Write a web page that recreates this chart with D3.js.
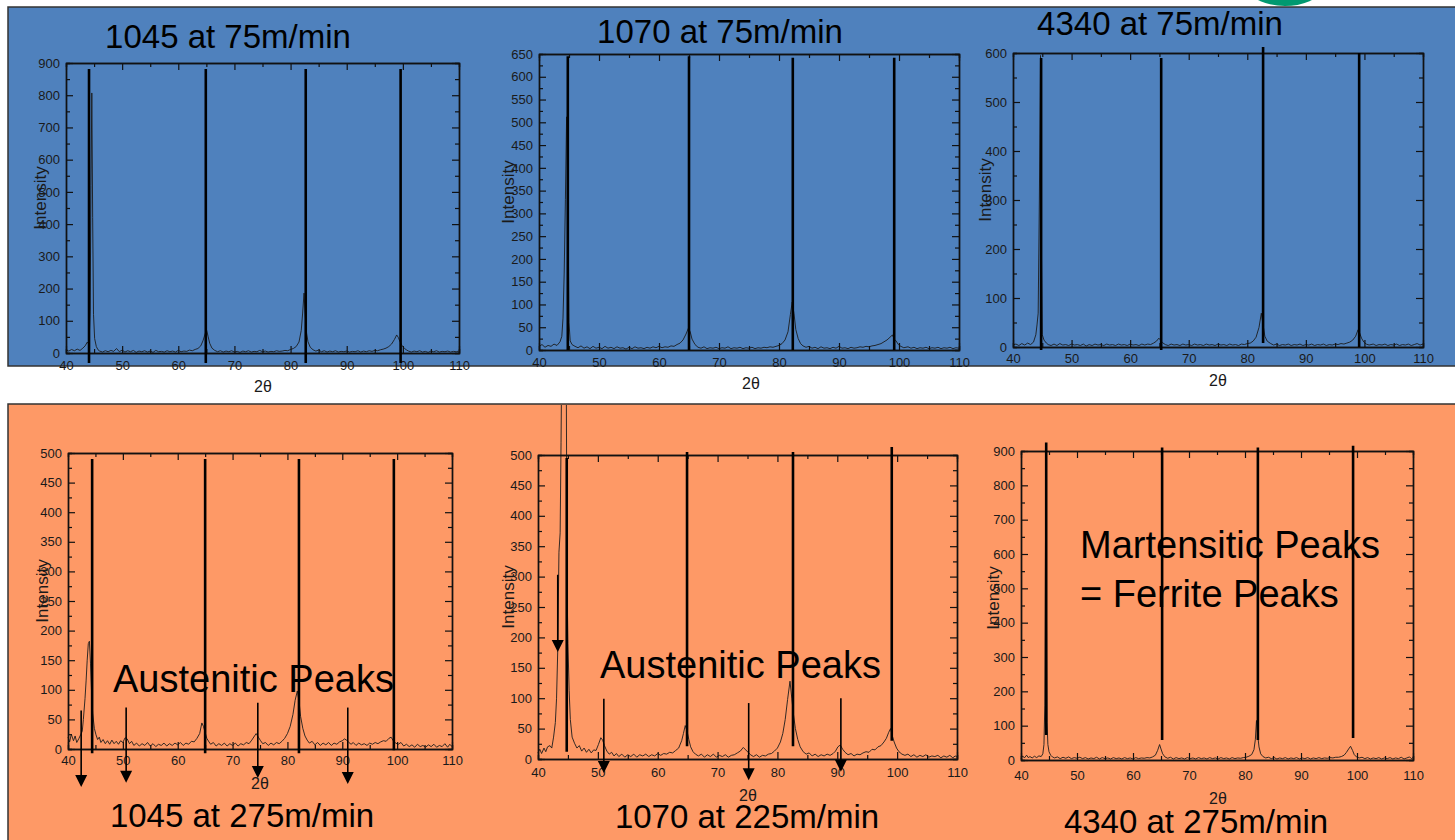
<!DOCTYPE html>
<html>
<head>
<meta charset="utf-8">
<script src="https://cdn.jsdelivr.net/npm/d3@7"></script>
<style>
  body { margin: 0; background: #fff; }
  svg { display: block; font-family: "Liberation Sans", Arial, sans-serif; }
  .axis path { stroke: #111; stroke-width: 1.4; }
  .axis line { stroke: #111; stroke-width: 1.2; }
  .axis text { font-size: 13px; fill: #1a1a1a; font-family: "Liberation Sans", Arial, sans-serif; }
</style>
</head>
<body>
<script>
// ---- tick labels ----
let xTicks = [40, 50, 60, 70, 80, 90, 100, 110];
let xMinor = [45, 55, 65, 75, 85, 95, 105];
let yTicks900 = [0, 100, 200, 300, 400, 500, 600, 700, 800, 900];
let yMinor900 = [50, 150, 250, 350, 450, 550, 650, 750, 850];
let yTicks650 = [0, 50, 100, 150, 200, 250, 300, 350, 400, 450, 500, 550, 600, 650];
let yMinor650 = [25, 75, 125, 175, 225, 275, 325, 375, 425, 475, 525, 575, 625];
let yTicks600 = [0, 100, 200, 300, 400, 500, 600];
let yMinor600 = [50, 150, 250, 350, 450, 550];
let yTicks500 = [0, 50, 100, 150, 200, 250, 300, 350, 400, 450, 500];
let yMinor500 = [25, 75, 125, 175, 225, 275, 325, 375, 425, 475];

// ---- XRD scans [2theta, intensity] ----
let scan1045at75 = [[40,10],[40.5,6],[41,11],[41.5,7],[42,12],[42.5,8],[43,15],[43.4,22],[43.8,34],[44.1,26],[44.3,130],[44.45,520],[44.6,807],[44.75,420],[44.9,120],[45.1,45],[45.4,20],[45.7,10],[46,6],[46.5,3],[47,7],[47.5,4],[48,8],[48.5,5],[49,14],[49.5,4],[50,9],[50.5,3],[51,7],[51.5,4],[52,8],[52.5,2],[53,6],[53.5,4],[54,7],[54.5,3],[55,6],[55.5,2],[56,8],[56.5,4],[57,5],[57.5,3],[58,7],[58.5,4],[59,6],[59.5,3],[60,8],[60.5,4],[61,6],[61.5,5],[62,9],[62.5,7],[63,11],[63.5,14],[64,22],[64.4,38],[64.8,60],[65.05,71],[65.3,52],[65.6,30],[66,15],[66.5,8],[67,4],[67.5,7],[68,3],[68.5,6],[69,4],[69.5,7],[70,3],[70.5,5],[71,2],[71.5,6],[72,4],[72.5,7],[73,3],[73.5,5],[74,4],[74.5,8],[75,4],[75.5,6],[76,3],[76.5,5],[77,4],[77.5,7],[78,5],[78.5,6],[79,8],[79.5,7],[80,11],[80.5,14],[81,20],[81.5,34],[81.9,70],[82.15,124],[82.4,186],[82.6,120],[82.85,62],[83.1,35],[83.5,18],[84,10],[84.5,6],[85,9],[85.5,4],[86,7],[86.5,3],[87,6],[87.5,4],[88,7],[88.5,3],[89,5],[89.5,4],[90,6],[90.5,3],[91,5],[91.5,4],[92,7],[92.5,3],[93,6],[93.5,4],[94,7],[94.5,5],[95,8],[95.5,7],[96,10],[96.5,12],[97,15],[97.5,20],[98,28],[98.5,42],[98.9,56],[99.2,48],[99.5,35],[99.9,22],[100.3,14],[100.7,9],[101,6],[101.5,3],[102,6],[102.5,4],[103,7],[103.5,3],[104,5],[104.5,2],[105,6],[105.5,4],[106,7],[106.5,3],[107,5],[107.5,4],[108,6],[108.5,3],[109,5],[109.5,4],[110,6]];

let scan1070at75 = [[40,8],[40.5,12],[41,6],[41.5,10],[42,8],[42.5,13],[43,10],[43.5,18],[43.8,30],[44.0,70],[44.2,169],[44.4,330],[44.6,512],[44.8,360],[45.0,60],[45.2,20],[45.5,12],[46,8],[46.5,5],[47,9],[47.5,4],[48,7],[48.5,3],[49,8],[49.5,4],[50,6],[50.5,3],[51,8],[51.5,4],[52,6],[52.5,3],[53,7],[53.5,4],[54,5],[54.5,2],[55,6],[55.5,3],[56,7],[56.5,4],[57,5],[57.5,3],[58,6],[58.5,4],[59,7],[59.5,5],[60,8],[60.5,5],[61,7],[61.5,6],[62,9],[62.5,8],[63,12],[63.5,15],[64,22],[64.5,35],[64.9,48],[65.2,40],[65.5,24],[66,12],[66.5,6],[67,4],[67.5,7],[68,3],[68.5,5],[69,4],[69.5,6],[70,3],[70.5,5],[71,4],[71.5,7],[72,3],[72.5,5],[73,4],[73.5,6],[74,3],[74.5,5],[75,4],[75.5,6],[76,3],[76.5,5],[77,4],[77.5,6],[78,5],[78.5,7],[79,6],[79.5,8],[80,10],[80.5,14],[81,22],[81.5,40],[81.9,78],[82.2,105],[82.5,80],[82.8,45],[83.2,25],[83.6,14],[84,9],[84.5,6],[85,8],[85.5,4],[86,6],[86.5,3],[87,7],[87.5,4],[88,5],[88.5,3],[89,6],[89.5,4],[90,8],[90.5,4],[91,5],[91.5,3],[92,6],[92.5,4],[93,5],[93.5,7],[94,6],[94.5,8],[95,7],[95.5,9],[96,10],[96.5,12],[97,14],[97.5,18],[98,22],[98.5,28],[98.9,33],[99.2,24],[99.5,20],[99.9,12],[100.3,8],[100.8,5],[101.5,7],[102,4],[102.5,6],[103,3],[103.5,5],[104,4],[104.5,6],[105,3],[105.5,5],[106,4],[106.5,6],[107,3],[107.5,5],[108,4],[108.5,6],[109,3],[109.5,5],[110,4]];

let scan4340at75 = [[40,4],[40.5,6],[41,3],[41.5,7],[42,4],[42.5,8],[43,5],[43.5,10],[43.9,25],[44.1,45],[44.3,69],[44.5,300],[44.7,595],[44.85,200],[45.0,25],[45.3,14],[45.7,8],[46,5],[46.5,3],[47,6],[47.5,3],[48,7],[48.5,4],[49,5],[49.5,3],[50,6],[50.5,4],[51,5],[51.5,3],[52,6],[52.5,2],[53,5],[53.5,3],[54,6],[54.5,4],[55,5],[55.5,3],[56,6],[56.5,4],[57,5],[57.5,3],[58,6],[58.5,4],[59,5],[59.5,3],[60,6],[60.5,4],[61,5],[61.5,3],[62,6],[62.5,4],[63,6],[63.5,5],[64,8],[64.5,12],[64.9,18],[65.2,14],[65.5,9],[66,5],[66.5,3],[67,6],[67.5,4],[68,5],[68.5,3],[69,6],[69.5,4],[70,5],[70.5,3],[71,6],[71.5,4],[72,5],[72.5,3],[73,6],[73.5,4],[74,5],[74.5,3],[75,6],[75.5,4],[76,5],[76.5,3],[77,6],[77.5,4],[78,5],[78.5,3],[79,6],[79.5,5],[80,7],[80.5,8],[81,12],[81.5,20],[82.0,40],[82.4,69],[82.7,45],[83.0,22],[83.4,12],[84,7],[84.5,4],[85,6],[85.5,3],[86,5],[86.5,4],[87,6],[87.5,3],[88,5],[88.5,4],[89,6],[89.5,3],[90,5],[90.5,4],[91,6],[91.5,3],[92,5],[92.5,4],[93,6],[93.5,3],[94,5],[94.5,4],[95,6],[95.5,5],[96,7],[96.5,6],[97,8],[97.5,10],[98,14],[98.5,22],[98.9,35],[99.2,28],[99.5,18],[99.9,10],[100.3,6],[100.8,4],[101.5,6],[102,3],[102.5,5],[103,4],[103.5,6],[104,3],[104.5,5],[105,4],[105.5,6],[106,3],[106.5,5],[107,4],[107.5,6],[108,3],[108.5,5],[109,7],[109.5,4],[110,6]];

let scan1045at275 = [[40,20],[40.3,12],[40.6,25],[41,14],[41.3,22],[41.6,11],[42,18],[42.3,24],[42.6,30],[42.8,50],[43.1,85],[43.3,115],[43.5,150],[43.7,178],[43.9,182],[44.1,145],[44.3,95],[44.5,60],[44.8,35],[45.1,24],[45.4,16],[45.7,20],[46,11],[46.4,16],[46.8,9],[47.2,14],[47.6,8],[48,15],[48.4,9],[48.8,13],[49.2,8],[49.6,14],[50,11],[50.4,19],[50.8,17],[51.2,9],[51.6,13],[52,6],[52.5,10],[53,5],[53.5,9],[54,6],[54.5,11],[55,5],[55.5,9],[56,4],[56.5,8],[57,6],[57.5,10],[58,5],[58.5,9],[59,6],[59.5,10],[60,7],[60.5,11],[61,6],[61.5,10],[62,8],[62.5,13],[63,12],[63.5,18],[64,26],[64.4,44],[64.7,38],[65,28],[65.3,18],[65.7,12],[66,8],[66.5,11],[67,5],[67.5,9],[68,6],[68.5,10],[69,5],[69.5,9],[70,6],[70.5,10],[71,5],[71.5,9],[72,7],[72.5,11],[73,9],[73.5,15],[74,22],[74.3,26],[74.7,20],[75.1,14],[75.5,9],[76,11],[76.5,6],[77,10],[77.5,7],[78,11],[78.5,9],[79,13],[79.5,18],[80,26],[80.5,38],[81,58],[81.4,82],[81.8,98],[82.1,82],[82.4,55],[82.8,35],[83.2,22],[83.6,15],[84,10],[84.5,13],[85,7],[85.5,11],[86,6],[86.5,10],[87,7],[87.5,11],[88,6],[88.5,10],[89,8],[89.5,12],[90,14],[90.4,17],[90.8,15],[91.2,11],[91.6,8],[92,11],[92.5,6],[93,10],[93.5,7],[94,9],[94.5,6],[95,10],[95.5,8],[96,11],[96.5,9],[97,12],[97.5,14],[98,13],[98.5,18],[98.9,20],[99.3,14],[99.7,10],[100.2,8],[100.7,11],[101.2,5],[101.7,8],[102.2,4],[102.7,7],[103.2,3],[103.7,8],[104.2,4],[104.7,6],[105.2,3],[105.7,7],[106.2,4],[106.7,8],[107.2,3],[107.7,6],[108.2,4],[108.7,9],[109.2,3],[109.6,8],[110,4]];

let scan1070at225 = [[40,10],[40.3,16],[40.6,9],[41,18],[41.3,12],[41.6,20],[42,22],[42.3,18],[42.6,36],[42.9,60],[43.1,100],[43.3,180],[43.5,340],[43.7,372],[43.85,520],[44.0,700],[44.7,700],[44.85,290],[45.0,190],[45.2,113],[45.4,65],[45.7,36],[46.1,26],[46.5,18],[46.9,22],[47.3,13],[47.7,18],[48.1,11],[48.5,16],[48.9,10],[49.3,15],[49.7,14],[50.1,24],[50.5,35],[50.8,31],[51.1,22],[51.5,13],[51.9,8],[52.3,11],[52.7,5],[53.1,9],[53.5,4],[54,8],[54.5,3],[55,7],[55.5,4],[56,8],[56.5,3],[57,7],[57.5,5],[58,8],[58.5,4],[59,7],[59.5,5],[60,9],[60.5,6],[61,9],[61.5,8],[62,11],[62.5,10],[63,14],[63.5,18],[64,30],[64.3,42],[64.6,55],[64.9,46],[65.2,32],[65.5,20],[65.9,12],[66.3,8],[66.8,5],[67.3,8],[67.8,3],[68.3,7],[68.8,4],[69.3,8],[69.8,3],[70.3,6],[70.8,4],[71.3,7],[71.8,3],[72.3,6],[72.8,7],[73.3,10],[73.8,13],[74.3,19],[74.7,15],[75.1,11],[75.5,7],[76,4],[76.5,7],[77,3],[77.5,6],[78,5],[78.5,8],[79,9],[79.5,13],[80,18],[80.5,28],[80.9,42],[81.3,65],[81.7,98],[82.1,128],[82.4,100],[82.7,72],[83.0,50],[83.4,32],[83.8,20],[84.3,12],[84.8,8],[85.3,10],[85.8,5],[86.3,8],[86.8,4],[87.3,7],[87.8,5],[88.3,8],[88.8,6],[89.3,9],[89.7,13],[90.1,20],[90.5,23],[90.9,16],[91.3,11],[91.8,7],[92.3,9],[92.8,5],[93.3,8],[93.8,7],[94.3,10],[94.8,12],[95.3,11],[95.8,16],[96.3,15],[96.8,20],[97.3,22],[97.8,28],[98.2,34],[98.6,44],[98.9,50],[99.2,38],[99.5,28],[99.9,18],[100.3,12],[100.8,8],[101.3,6],[101.8,8],[102.3,4],[102.8,7],[103.3,3],[103.8,6],[104.3,4],[104.8,7],[105.3,3],[105.8,5],[106.3,4],[106.8,6],[107.3,2],[107.8,5],[108.3,3],[108.8,6],[109.3,2],[109.7,5],[110,3]];

let scan4340at275 = [[40,5],[40.3,12],[40.6,6],[41,14],[41.3,7],[41.6,10],[42,6],[42.4,11],[42.8,7],[43.2,12],[43.6,10],[43.9,18],[44.1,45],[44.25,160],[44.35,560],[44.45,870],[44.55,420],[44.65,110],[44.8,45],[45.0,24],[45.3,14],[45.6,9],[46,6],[46.5,9],[47,4],[47.5,8],[48,5],[48.5,9],[49,4],[49.5,7],[50,5],[50.5,8],[51,4],[51.5,7],[52,3],[52.5,6],[53,4],[53.5,8],[54,3],[54.5,7],[55,4],[55.5,6],[56,3],[56.5,7],[57,4],[57.5,6],[58,3],[58.5,7],[59,4],[59.5,6],[60,3],[60.5,7],[61,4],[61.5,6],[62,5],[62.5,7],[63,6],[63.5,9],[64,14],[64.4,28],[64.75,45],[65.0,32],[65.3,18],[65.7,9],[66.2,5],[66.7,8],[67.2,3],[67.7,7],[68.2,4],[68.7,6],[69.2,3],[69.7,7],[70.2,4],[70.7,6],[71.2,3],[71.7,7],[72.2,4],[72.7,6],[73.2,3],[73.7,7],[74.2,4],[74.7,6],[75.2,3],[75.7,7],[76.2,4],[76.7,6],[77.2,3],[77.7,7],[78.2,4],[78.7,6],[79.2,5],[79.7,7],[80.2,8],[80.7,11],[81.2,16],[81.6,30],[81.85,60],[82.05,115],[82.25,75],[82.5,38],[82.8,18],[83.2,10],[83.7,6],[84.2,8],[84.7,4],[85.2,7],[85.7,3],[86.2,6],[86.7,4],[87.2,7],[87.7,3],[88.2,6],[88.7,4],[89.2,7],[89.7,3],[90.2,6],[90.7,4],[91.2,7],[91.7,3],[92.2,6],[92.7,4],[93.2,7],[93.7,4],[94.2,6],[94.7,5],[95.2,7],[95.7,6],[96.2,8],[96.7,8],[97.2,10],[97.7,14],[98.1,22],[98.5,32],[98.85,40],[99.2,28],[99.5,16],[99.9,9],[100.4,6],[100.9,8],[101.4,4],[101.9,7],[102.4,3],[102.9,6],[103.4,4],[103.9,7],[104.4,3],[104.9,6],[105.4,4],[105.9,7],[106.4,3],[106.9,6],[107.4,4],[107.9,8],[108.4,3],[108.9,6],[109.4,9],[109.7,4],[110,7]];

// ---- ferrite reference lines: 2theta, top and bottom intensity ----
let ref1045at75 = { theta: [44.1, 64.9, 82.7, 99.6], top: [881, 881, 881, 881], bottom: [-31, -31, -31, -31] };
let ref1070at75 = { theta: [44.8, 65.0, 82.3, 99.2], top: [645, 645, 642, 642], bottom: [0, 0, 0, 0] };
let ref4340at75 = { theta: [44.8, 65.3, 82.7, 99.1], top: [590, 590, 612, 600], bottom: [-6, -6, 8, 0] };
let ref1045at275 = { theta: [44.4, 65.0, 82.1, 99.4], top: [490, 490, 490, 490], bottom: [-7, -7, -7, -2] };
let ref1070at225 = { theta: [44.8, 64.9, 82.6, 99.1], top: [495, 505, 505, 513], bottom: [12, 21, 21, 30] };
let ref4340at275 = { theta: [44.5, 65.2, 82.3, 99.3], top: [925, 910, 910, 915], bottom: [73, 58, 58, 64] };

// ---- austenite arrows: 2theta, start and tip intensity ----
let arr1045at275 = { theta: [42.4, 50.6, 74.6, 91.0], from: [65, 70, 78, 70], to: [-64, -57, -49, -59] };
let arr1070at225 = { theta: [43.3, 51.0, 75.2, 90.6], from: [303, 99, 92, 100], to: [176, -23, -35, -21] };

// ---- layout ----
let W = 1455, H = 840;
let panels = [
  { scan: scan1045at75, ref: ref1045at75, yMax: 900, yT: yTicks900, yM: yMinor900,
    left: 66, right: 459, top: 63, bottom: 353, band: "blue", xPad: 8,
    title: "1045 at 75m/min", tx: 228, ty: 48, lx: 40, ly: 198, thx: 263, thy: 392 },
  { scan: scan1070at75, ref: ref1070at75, yMax: 650, yT: yTicks650, yM: yMinor650,
    left: 539, right: 959, top: 54, bottom: 350, band: "blue", xPad: 8,
    title: "1070 at 75m/min", tx: 720, ty: 43, lx: 508, ly: 192, thx: 751, thy: 389 },
  { scan: scan4340at75, ref: ref4340at75, yMax: 600, yT: yTicks600, yM: yMinor600,
    left: 1013, right: 1423, top: 53, bottom: 347, band: "blue", xPad: 7,
    title: "4340 at 75m/min", tx: 1160, ty: 35, lx: 985, ly: 190, thx: 1218, thy: 386 },
  { scan: scan1045at275, ref: ref1045at275, arrows: arr1045at275, yMax: 500, yT: yTicks500, yM: yMinor500,
    left: 68, right: 452, top: 453, bottom: 749, band: "orange", xPad: 7,
    title: "1045 at 275m/min", tx: 242, ty: 827, lx: 42, ly: 591, thx: 260, thy: 789,
    note: ["Austenitic Peaks"], nx: 113, ny: 692 },
  { scan: scan1070at225, ref: ref1070at225, arrows: arr1070at225, yMax: 500, yT: yTicks500, yM: yMinor500,
    left: 538, right: 957, top: 455, bottom: 759, band: "orange", xPad: 9,
    title: "1070 at 225m/min", tx: 747, ty: 828, lx: 508, ly: 597, thx: 748, thy: 801,
    note: ["Austenitic Peaks"], nx: 600, ny: 678 },
  { scan: scan4340at275, ref: ref4340at275, yMax: 900, yT: yTicks900, yM: yMinor900,
    left: 1021, right: 1413, top: 451, bottom: 760, band: "orange", xPad: 11,
    title: "4340 at 275m/min", tx: 1196, ty: 833, lx: 993, ly: 598, thx: 1218, thy: 804,
    note: ["Martensitic Peaks", "= Ferrite Peaks"], nx: 1080, ny: 558 }
];

let svg = d3.select("body").append("svg")
  .attr("width", W)
  .attr("height", H);

// logo corner peeking at the top
svg.append("circle")
  .attr("cx", 1285).attr("cy", -58).attr("r", 64)
  .attr("fill", "#009970");

// background bands
let bands = {
  blue: { y: 7, h: 359, fill: "#4f81bd" },
  orange: { y: 404, h: 450, fill: "#fe9966" }
};
Object.entries(bands).forEach(([name, b]) => {
  svg.append("rect")
    .attr("x", 8).attr("y", b.y)
    .attr("width", W + 10).attr("height", b.h)
    .attr("fill", b.fill)
    .attr("stroke", "#333")
    .attr("stroke-width", 1.5);
  svg.append("clipPath").attr("id", "clip-" + name)
    .append("rect")
    .attr("x", 8).attr("y", b.y + 1)
    .attr("width", W).attr("height", b.h);
});

panels.forEach(function (p) {
  let x = d3.scaleLinear([40, 110], [p.left, p.right]);
  let y = d3.scaleLinear([0, p.yMax], [p.bottom, p.top]);
  let g = svg.append("g");

  // scan
  let line = d3.line()
    .x(d => x(d[0]))
    .y(d => y(d[1]));
  g.append("path")
    .datum(p.scan)
    .attr("d", line)
    .attr("fill", "none")
    .attr("stroke", "#1c1c1c")
    .attr("stroke-width", 0.9)
    .attr("clip-path", "url(#clip-" + p.band + ")");

  // axes, ticks inward on all four sides
  g.append("g").attr("class", "axis")
    .attr("transform", `translate(0,${p.bottom})`)
    .call(d3.axisBottom(x).tickValues(xTicks).tickSizeInner(-7).tickSizeOuter(0).tickPadding(p.xPad));
  g.append("g").attr("class", "axis")
    .attr("transform", `translate(0,${p.bottom})`)
    .call(d3.axisBottom(x).tickValues(xMinor).tickSize(-4).tickFormat(""));
  g.append("g").attr("class", "axis")
    .attr("transform", `translate(0,${p.top})`)
    .call(d3.axisTop(x).tickValues(xTicks).tickSizeInner(-7).tickSizeOuter(0).tickFormat(""));
  g.append("g").attr("class", "axis")
    .attr("transform", `translate(0,${p.top})`)
    .call(d3.axisTop(x).tickValues(xMinor).tickSize(-4).tickFormat(""));
  g.append("g").attr("class", "axis")
    .attr("transform", `translate(${p.left},0)`)
    .call(d3.axisLeft(y).tickValues(p.yT).tickSizeInner(-7).tickSizeOuter(0).tickPadding(6));
  g.append("g").attr("class", "axis")
    .attr("transform", `translate(${p.left},0)`)
    .call(d3.axisLeft(y).tickValues(p.yM).tickSize(-4).tickFormat(""));
  g.append("g").attr("class", "axis")
    .attr("transform", `translate(${p.right},0)`)
    .call(d3.axisRight(y).tickValues(p.yT).tickSizeInner(-7).tickSizeOuter(0).tickFormat(""));
  g.append("g").attr("class", "axis")
    .attr("transform", `translate(${p.right},0)`)
    .call(d3.axisRight(y).tickValues(p.yM).tickSize(-4).tickFormat(""));

  // ferrite reference lines
  g.selectAll(".ref")
    .data(p.ref.theta)
    .enter()
    .append("line")
    .attr("x1", d => x(d)).attr("x2", d => x(d))
    .attr("y1", (d, i) => y(p.ref.top[i]))
    .attr("y2", (d, i) => y(p.ref.bottom[i]))
    .attr("stroke", "#000")
    .attr("stroke-width", 2.6);

  // arrows
  if (p.arrows) {
    p.arrows.theta.forEach(function (t, i) {
      let ax = x(t), tip = y(p.arrows.to[i]);
      g.append("line")
        .attr("x1", ax).attr("x2", ax)
        .attr("y1", y(p.arrows.from[i])).attr("y2", tip - 10)
        .attr("stroke", "#000").attr("stroke-width", 1.6);
      g.append("path")
        .attr("d", `M${ax - 6},${tip - 12}L${ax + 6},${tip - 12}L${ax},${tip}Z`)
        .attr("fill", "#000");
    });
  }

  // axis titles
  g.append("text")
    .attr("transform", `translate(${p.lx},${p.ly}) rotate(-90)`)
    .attr("text-anchor", "middle")
    .attr("dy", "0.35em")
    .style("font-size", "17px")
    .attr("fill", "#1a1a1a")
    .text("Intensity");
  g.append("text")
    .attr("x", p.thx).attr("y", p.thy)
    .attr("text-anchor", "middle")
    .style("font-size", "16px")
    .attr("fill", "#1a1a1a")
    .text("2θ");

  // panel title
  g.append("text")
    .attr("x", p.tx).attr("y", p.ty)
    .attr("text-anchor", "middle")
    .style("font-size", "33px")
    .attr("fill", "#000")
    .text(p.title);

  // annotation
  if (p.note) {
    p.note.forEach(function (s, i) {
      g.append("text")
        .attr("x", p.nx).attr("y", p.ny + i * 49)
        .style("font-size", "38px")
        .attr("fill", "#000")
        .text(s);
    });
  }
});
</script>
</body>
</html>
